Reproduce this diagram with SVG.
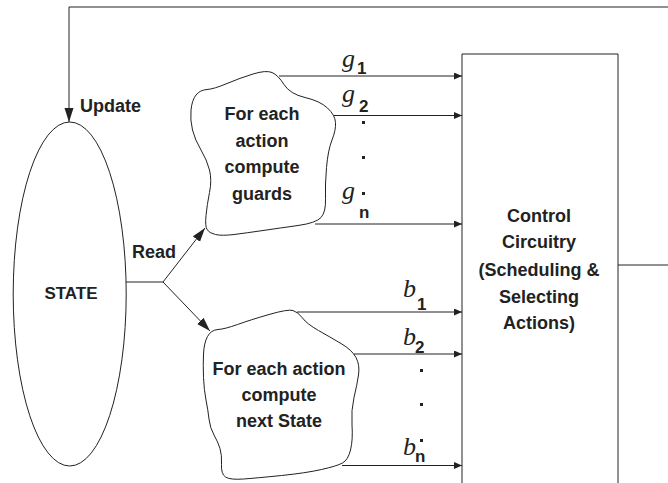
<svg xmlns="http://www.w3.org/2000/svg" width="668" height="483" viewBox="0 0 668 483">
  <style>
    .ln { fill: none; stroke: #222; stroke-width: 1; }
    .shape { fill: #fff; stroke: #222; stroke-width: 1; }
    .lbl { font-family: "Liberation Sans", Arial, sans-serif; font-weight: bold; font-size: 18px; fill: #222; text-anchor: middle; }
    .var { font-family: "Liberation Serif", "Times New Roman", serif; font-style: italic; font-size: 26px; fill: #222; }
    .sub { font-family: "Liberation Sans", Arial, sans-serif; font-weight: bold; font-size: 17px; fill: #222; }
    .dot { fill: #222; }
  </style>
  <defs>
    <marker id="big" markerUnits="userSpaceOnUse" markerWidth="15" markerHeight="10" refX="14" refY="4.5" orient="auto">
      <path d="M0,0 L14,4.5 L0,9 z" fill="#222"/>
    </marker>
    <marker id="small" markerUnits="userSpaceOnUse" markerWidth="9" markerHeight="8" refX="8" refY="3.5" orient="auto">
      <path d="M0,0 L8,3.5 L0,7 z" fill="#222"/>
    </marker>
  </defs>

  <!-- state store -->
  <g id="state">
    <ellipse class="shape" cx="69.7" cy="294" rx="56.5" ry="172"/>
    <text class="lbl" x="71" y="299" style="font-size:17px">STATE</text>
  </g>

  <!-- guard computation -->
  <g id="guards">
    <path class="shape" d="M 253,74 Q 266,70 272,72.5 Q 278,75 284,84.5 Q 290,94 305,97.5 Q 320,101 327.5,108 Q 335,115 335.5,122.5 Q 336,130 332,140 Q 328,150 326.5,167.5 Q 325,185 325.5,198.5 Q 326,212 321,217.5 Q 316,223 298,225.5 Q 280,228 263,230.5 Q 246,233 234,234.5 Q 222,236 215.5,234.5 Q 209,233 207,229.5 Q 205,226 206,215.5 Q 207,205 209.5,192.5 Q 212,180 209.5,170 Q 207,160 201,150 Q 195,140 192.5,130 Q 190,120 191,110 Q 192,100 196,95 Q 200,90 207,89.5 Q 214,89 227,83.5 Q 240,78 253,74 Z"/>
    <text class="lbl" x="262" y="120">For each</text>
    <text class="lbl" x="262" y="146.5">action</text>
    <text class="lbl" x="262" y="173">compute</text>
    <text class="lbl" x="262" y="199.5">guards</text>
  </g>

  <!-- next-state computation -->
  <g id="nextstate">
    <path class="shape" d="M 207.5,336.5 Q 211,330 218,329.5 Q 225,329 237.5,324.5 Q 250,320 269,314.5 Q 288,309 293,310.5 Q 298,312 302.5,318 Q 307,324 318.5,330.5 Q 330,337 341,343.5 Q 352,350 356,357.5 Q 360,365 358.5,375 Q 357,385 354,397.5 Q 351,410 352,425 Q 353,440 350.5,450 Q 348,460 342.5,463 Q 337,466 321.5,469.5 Q 306,473 281.5,475.5 Q 257,478 243.5,479 Q 230,480 225.5,477 Q 221,474 221.5,464.5 Q 222,455 220,448.5 Q 218,442 214,435 Q 210,428 209,419 Q 208,410 206,400 Q 204,390 203.5,377.5 Q 203,365 203.5,354 Q 204,343 207.5,336.5 Z"/>
    <text class="lbl" x="279" y="375">For each action</text>
    <text class="lbl" x="279" y="400.5">compute</text>
    <text class="lbl" x="279" y="426.5">next State</text>
  </g>

  <!-- scheduler -->
  <g id="control">
    <path class="ln" d="M462,490 L462,54 L618,54 L618,490"/>
    <text class="lbl" x="539" y="222">Control</text>
    <text class="lbl" x="539" y="248">Circuitry</text>
    <text class="lbl" x="539" y="276">(Scheduling &amp;</text>
    <text class="lbl" x="539" y="303">Selecting</text>
    <text class="lbl" x="539" y="329">Actions)</text>
  </g>

  <g id="connectors">
    <!-- update feedback -->
    <path class="ln" d="M668,7 L69,7 L69,122" marker-end="url(#big)"/>
    <path class="ln" d="M618,265 L668,265"/>
    <!-- read fan-out -->
    <path class="ln" d="M126,282 L163,282"/>
    <path class="ln" d="M163,282 L205,228" marker-end="url(#big)"/>
    <path class="ln" d="M163,282 L210,331" marker-end="url(#big)"/>
    <!-- guard outputs -->
    <path class="ln" d="M279,76 L462,76" marker-end="url(#small)"/>
    <path class="ln" d="M334,115.5 L462,115.5" marker-end="url(#small)"/>
    <path class="ln" d="M315,224 L462,224" marker-end="url(#small)"/>
    <!-- next-state outputs -->
    <path class="ln" d="M297,312 L462,312" marker-end="url(#small)"/>
    <path class="ln" d="M354,354 L462,354" marker-end="url(#small)"/>
    <path class="ln" d="M342,465.5 L462,465.5" marker-end="url(#small)"/>
  </g>

  <!-- edge labels -->
  <g id="labels">
    <text class="lbl" x="80" y="112" style="text-anchor:start">Update</text>
    <text class="lbl" x="132" y="258" style="text-anchor:start">Read</text>

    <text class="var" x="342" y="67">g</text><text class="sub" x="357" y="74">1</text>
    <text class="var" x="342" y="102">g</text><text class="sub" x="359" y="112">2</text>
    <text class="var" x="342" y="199">g</text><text class="sub" x="359" y="218">n</text>
    <rect class="dot" x="362" y="121" width="3" height="3"/>
    <rect class="dot" x="362" y="156" width="3" height="3"/>
    <rect class="dot" x="362" y="192" width="3" height="3"/>

    <text class="var" x="403" y="297">b</text><text class="sub" x="417" y="310">1</text>
    <text class="var" x="403" y="345">b</text><text class="sub" x="415" y="353">2</text>
    <text class="var" x="403" y="455">b</text><text class="sub" x="415" y="462">n</text>
    <rect class="dot" x="420" y="369" width="3" height="3"/>
    <rect class="dot" x="420" y="403" width="3" height="3"/>
    <rect class="dot" x="420" y="439" width="3" height="3"/>
  </g>
</svg>
